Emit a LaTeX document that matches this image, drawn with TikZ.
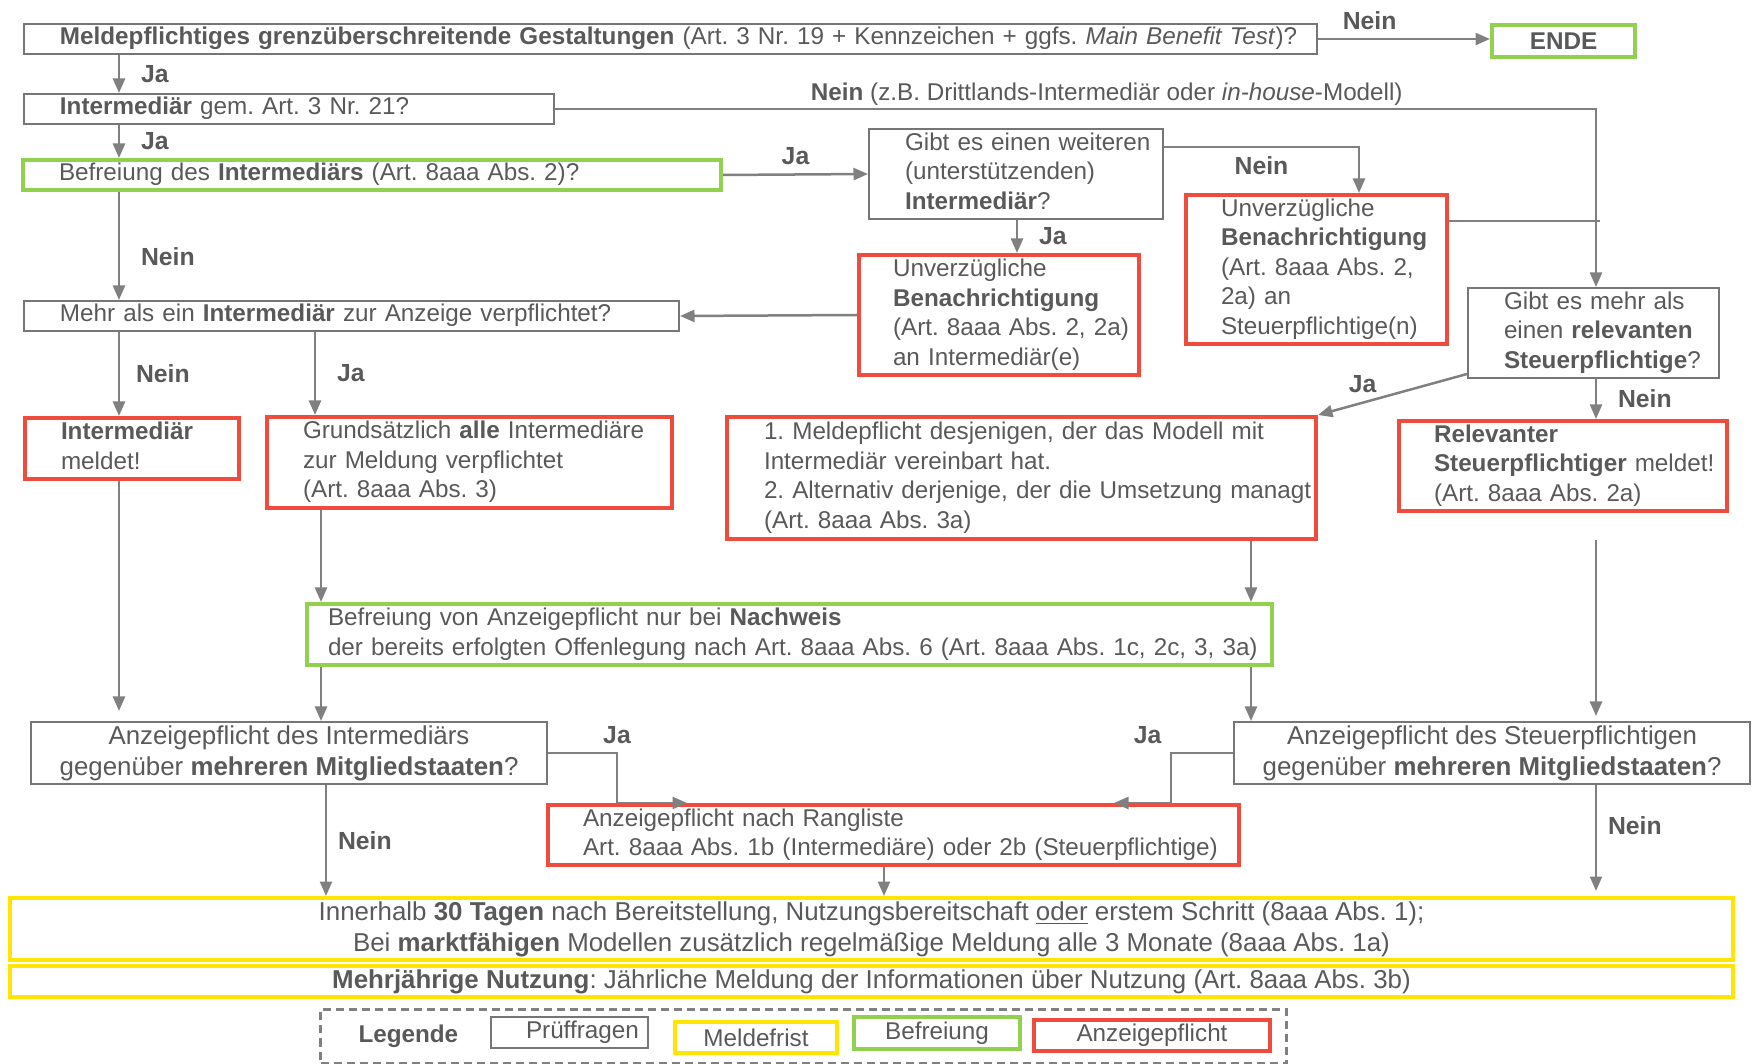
\documentclass[tikz,border=0pt]{standalone}
\usepackage{fontspec}
\setmainfont{Liberation Sans}
\usetikzlibrary{arrows.meta}
\frenchspacing

\definecolor{txtgray}{HTML}{595959}
\definecolor{linegray}{HTML}{808080}
\definecolor{boxgray}{HTML}{767676}
\definecolor{gruen}{HTML}{92D050}
\definecolor{rot}{HTML}{F04C3E}
\definecolor{gelb}{HTML}{FFE500}

% Zeilen ohne automatischen Umbruch
\newcommand{\zeilen}[1]{\begin{tabular}{@{}l@{}}#1\end{tabular}}

\tikzset{
  every node/.style={font=\fontsize{9.7}{11.8}\selectfont, text=txtgray},
  pruef/.style={draw=boxgray, line width=0.8pt},
  frist/.style={draw=gelb, line width=1.6pt},
  befreiung/.style={draw=gruen, line width=1.6pt},
  anzeige/.style={draw=rot, line width=1.6pt},
  links/.style={anchor=north west, align=left, inner ysep=0pt},
  mitte/.style={anchor=north west, align=center, inner sep=0pt},
  gross/.style={font=\fontsize{10.35}{12.4}\selectfont},
  pfeil/.style={->, draw=linegray, line width=1pt},
  linie/.style={draw=linegray, line width=1pt},
  antwort/.style={font=\fontsize{9.9}{11.8}\selectfont\bfseries},
}

\begin{document}
\begin{tikzpicture}[x=0.4pt, y=-0.4pt, >={Triangle[length=5.8pt, width=4.8pt]}]
\useasboundingbox (0,0) rectangle (1754,1064);

% Spalten der senkrechten Pfeile
\coordinate (s1) at (119,0);
\coordinate (s2) at (315,0);
\coordinate (s3) at (321,0);
\coordinate (s4) at (326,0);
\coordinate (s5) at (1017,0);
\coordinate (s6) at (1359,0);
\coordinate (s7) at (1596,0);
\coordinate (s8) at (1251,0);
\coordinate (s9) at (884,0);
\coordinate (s10) at (617,0);
\coordinate (s11) at (1171,0);

% Pruefschritte und Folgen
\node[pruef, links, text width=488.4pt, inner xsep=14.4pt, minimum height=12pt] (gestaltung) at (23,23)
  {\zeilen{\textbf{Meldepflichtiges grenzüberschreitende Gestaltungen} (Art. 3 Nr. 19 + Kennzeichen + ggfs. \textit{Main Benefit Test})?}};
\node[befreiung, mitte, minimum width=57.2pt, minimum height=12.8pt] (ende) at (1490,23) {\textbf{ENDE}};
\node[pruef, links, text width=183.2pt, inner xsep=14.4pt, minimum height=12pt] (intermediaer) at (23,93)
  {\zeilen{\textbf{Intermediär} gem. Art. 3 Nr. 21?}};
\node[befreiung, links, text width=250.4pt, inner xsep=14.4pt, minimum height=12pt] (befr) at (21,158)
  {\zeilen{Befreiung des \textbf{Intermediärs} (Art. 8aaa Abs. 2)?}};
\node[pruef, links, text width=88.8pt, inner xsep=14.4pt, minimum height=36pt] (weiterer) at (868,128)
  {\zeilen{Gibt es einen weiteren\\ (unterstützenden)\\ \textbf{Intermediär}?}};
\node[anzeige, links, text width=84.8pt, inner xsep=13.6pt, minimum height=48pt] (benachInt) at (857,253)
  {\zeilen{Unverzügliche\\ \textbf{Benachrichtigung}\\ (Art. 8aaa Abs. 2, 2a)\\ an Intermediär(e)}};
\node[anzeige, links, text width=76.4pt, inner xsep=14pt, minimum height=59.6pt] (benachStpfl) at (1184,193)
  {\zeilen{Unverzügliche\\ \textbf{Benachrichtigung}\\ (Art. 8aaa Abs. 2,\\ 2a) an\\ Steuerpflichtige(n)}};
\node[pruef, links, text width=71.6pt, inner xsep=14.4pt, minimum height=36pt] (relevant) at (1467,287)
  {\zeilen{Gibt es mehr als\\ einen \textbf{relevanten}\\ \textbf{Steuerpflichtige}?}};
\node[pruef, links, text width=233.2pt, inner xsep=14.4pt, minimum height=12pt] (mehrere) at (23,300)
  {\zeilen{Mehr als ein \textbf{Intermediär} zur Anzeige verpflichtet?}};
\node[anzeige, links, text width=56.8pt, inner xsep=14.4pt, minimum height=24.4pt] (intmeldet) at (23,416)
  {\zeilen{\textbf{Intermediär}\\ meldet!}};
\node[anzeige, links, text width=133.2pt, inner xsep=14.4pt, minimum height=36.4pt] (alle) at (265,415)
  {\zeilen{Grundsätzlich \textbf{alle} Intermediäre\\ zur Meldung verpflichtet\\ (Art. 8aaa Abs. 3)}};
\node[anzeige, links, text width=206pt, inner xsep=14.8pt, minimum height=48.8pt] (meldepflicht) at (725,415)
  {\zeilen{1. Meldepflicht desjenigen, der das Modell mit\\ Intermediär vereinbart hat.\\ 2. Alternativ derjenige, der die Umsetzung managt\\ (Art. 8aaa Abs. 3a)}};
\node[anzeige, links, text width=103.2pt, inner xsep=14pt, minimum height=36pt] (stpflmeldet) at (1397,419)
  {\zeilen{\textbf{Relevanter}\\ \textbf{Steuerpflichtiger} meldet!\\ (Art. 8aaa Abs. 2a)}};
\node[befreiung, links, text width=369.2pt, inner xsep=8.4pt, minimum height=24.4pt] (nachweis) at (305,602)
  {\zeilen{Befreiung von Anzeigepflicht nur bei \textbf{Nachweis}\\ der bereits erfolgten Offenlegung nach Art. 8aaa Abs. 6 (Art. 8aaa Abs. 1c, 2c, 3, 3a)}};
\node[pruef, mitte, gross, minimum width=206.4pt, minimum height=24.8pt] (mitglInt) at (30,721)
  {Anzeigepflicht des Intermediärs\\ gegenüber \textbf{mehreren Mitgliedstaaten}?};
\node[pruef, mitte, gross, minimum width=206.4pt, minimum height=24.8pt] (mitglStpfl) at (1233,721)
  {Anzeigepflicht des Steuerpflichtigen\\ gegenüber \textbf{mehreren Mitgliedstaaten}?};
\node[anzeige, links, text width=248.4pt, inner xsep=14pt, minimum height=24pt] (rangliste) at (546,803)
  {\zeilen{Anzeigepflicht nach Rangliste\\ Art. 8aaa Abs. 1b (Intermediäre) oder 2b (Steuerpflichtige)}};
\node[frist, mitte, gross, minimum width=689.2pt, minimum height=24.8pt] (frist30) at (8,896)
  {Innerhalb \textbf{30 Tagen} nach Bereitstellung, Nutzungsbereitschaft \underline{oder} erstem Schritt (8aaa Abs. 1);\\
   Bei \textbf{marktfähigen} Modellen zusätzlich regelmäßige Meldung alle 3 Monate (8aaa Abs. 1a)};
\node[frist, mitte, gross, minimum width=689.2pt, minimum height=12.4pt] (mehrjahr) at (8,964)
  {\textbf{Mehrjährige Nutzung}: Jährliche Meldung der Informationen über Nutzung (Art. 8aaa Abs. 3b)};

% Legende
\node[draw=linegray, line width=1.2pt, dash pattern=on 3.2pt off 2pt, links, text width=356pt, inner xsep=15.2pt, minimum height=21.6pt] (legende) at (319,1008)
  {\textbf{Legende}};
\node[pruef, links, text width=34.8pt, inner xsep=14pt, minimum height=12.4pt] (legPruef) at (490,1016) {\zeilen{Prüffragen}};
\node[frist, mitte, minimum width=64.8pt, minimum height=12.4pt] (legFrist) at (673,1020) {Meldefrist};
\node[befreiung, mitte, minimum width=66.4pt, minimum height=12.8pt] (legBefr) at (852,1015) {Befreiung};
\node[anzeige, mitte, minimum width=94.4pt, minimum height=12.4pt] (legAnz) at (1032,1018) {Anzeigepflicht};

% Verbindungen
\draw[pfeil] (gestaltung.east) -- node[antwort, above, pos=0.3]{Nein} (gestaltung.east -| ende.west);
\draw[pfeil] (gestaltung.south -| s1) -- node[antwort, right=5pt]{Ja} (intermediaer.north -| s1);
\draw[pfeil] (intermediaer.south -| s1) -- node[antwort, right=5pt]{Ja} (befr.north -| s1);
\draw[pfeil] (intermediaer.east) -- node[above, inner sep=1pt, pos=0.53]{\textbf{Nein} (z.B. Drittlands-Intermediär oder \textit{in-house}-Modell)}
  (intermediaer.east -| s7) -- (relevant.north -| s7);
\draw[pfeil] (befr.east) -- node[antwort, above]{Ja} (weiterer.west);
\draw[pfeil] (befr.south -| s1) -- node[antwort, right=5pt, pos=0.6]{Nein} (mehrere.north -| s1);
\draw[pfeil] ([yshift=-7.6pt]weiterer.north east) -| node[antwort, below, pos=0.25]{Nein} (s6 |- benachStpfl.north);
\draw[pfeil] (weiterer.south -| s5) -- node[antwort, right=5pt]{Ja} (benachInt.north -| s5);
\draw[linie] ([yshift=-11.2pt]benachStpfl.north east) -- ++(60.4pt,0);
\draw[pfeil] (benachInt.west) -- (mehrere.east);
\draw[pfeil] ([yshift=2pt]relevant.south west) -- node[antwort, above, pos=0.7]{Ja} (meldepflicht.north east);
\draw[pfeil] (relevant.south -| s7) -- node[antwort, right=5pt]{Nein} (stpflmeldet.north -| s7);
\draw[pfeil] (mehrere.south -| s1) -- node[antwort, right=3pt]{Nein} (intmeldet.north -| s1);
\draw[pfeil] (mehrere.south -| s2) -- node[antwort, right=5pt]{Ja} (alle.north -| s2);
\draw[pfeil] (alle.south -| s3) -- (nachweis.north -| s3);
\draw[pfeil] (meldepflicht.south -| s8) -- (nachweis.north -| s8);
\draw[pfeil, shorten >=4pt] (intmeldet.south -| s1) -- (mitglInt.north -| s1);
\draw[pfeil] (nachweis.south -| s3) -- (mitglInt.north -| s3);
\draw[pfeil] (nachweis.south -| s8) -- (mitglStpfl.north -| s8);
\draw[pfeil, shorten <=11pt, shorten >=2pt] (stpflmeldet.south -| s7) -- (mitglStpfl.north -| s7);
\draw[pfeil] (mitglInt.east) -| node[antwort, above, pos=0.5]{Ja} (s10 |- rangliste.north) -- ([xshift=56.4pt]rangliste.north west);
\draw[pfeil] (mitglStpfl.west) -| node[antwort, above left, pos=0.5]{Ja} (s11 |- rangliste.north) -- ([xshift=-50.8pt]rangliste.north east);
\draw[pfeil] (mitglInt.south -| s4) -- node[antwort, right=1pt]{Nein} (frist30.north -| s4);
\draw[pfeil] (rangliste.south -| s9) -- (frist30.north -| s9);
\draw[pfeil, shorten >=2pt] (mitglStpfl.south -| s7) -- node[antwort, right=1pt, pos=0.37]{Nein} (frist30.north -| s7);

\end{tikzpicture}
\end{document}
